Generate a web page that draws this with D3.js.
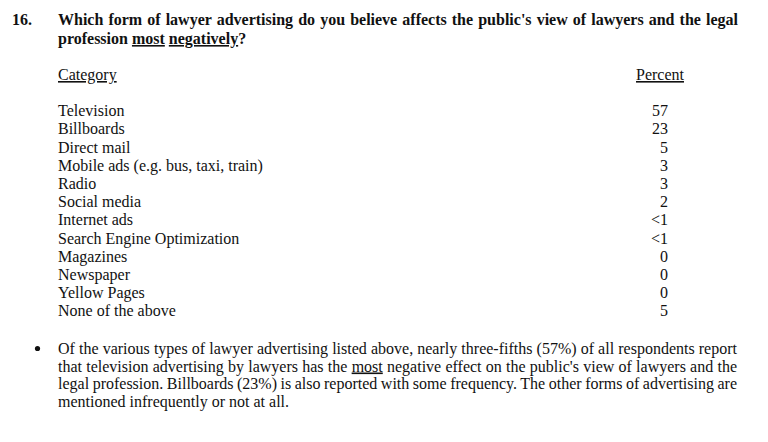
<!DOCTYPE html>
<html>
<head>
<meta charset="utf-8">
<script src="https://cdn.jsdelivr.net/npm/d3@7/dist/d3.min.js"></script>
<style>
  html, body { margin: 0; padding: 0; background: #fff; }
  svg { display: block; }
  text { font-family: "Liberation Serif", "Times New Roman", serif; fill: #111; }
</style>
</head>
<body>
<div id="chart"></div>
<script>
// ---- data ----
const questionNumber = "16.";
const titleLines = [
  [{t: "Which form of lawyer advertising do you believe affects the public's view of lawyers and the legal"}],
  [{t: "profession "}, {t: "most", u: true}, {t: " "}, {t: "negatively", u: true}, {t: "?"}]
];
const headers = ["Category", "Percent"];
const categories = [
  "Television", "Billboards", "Direct mail", "Mobile ads (e.g. bus, taxi, train)",
  "Radio", "Social media", "Internet ads", "Search Engine Optimization",
  "Magazines", "Newspaper", "Yellow Pages", "None of the above"
];
const percents = [57, 23, 5, 3, 3, 2, "<1", "<1", 0, 0, 0, 5];
const noteLines = [
  [{t: "Of the various types of lawyer advertising listed above, nearly three-fifths (57%) of all respondents report"}],
  [{t: "that television advertising by lawyers has the "}, {t: "most", u: true}, {t: " negative effect on the public's view of lawyers and the"}],
  [{t: "legal profession. Billboards (23%) is also reported with some frequency. The other forms of advertising are"}],
  [{t: "mentioned infrequently or not at all."}]
];

// ---- layout ----
const W = 768, H = 442;
const fontSize = 16;
const textLeft = 58, textRight = 738;
const numRight = 668;

const svg = d3.select("#chart").append("svg")
  .attr("width", W).attr("height", H);
svg.append("rect").attr("width", W).attr("height", H).attr("fill", "#fff");

function writeLine(g, parts, x, y, opts) {
  const txt = g.append("text")
    .attr("x", x).attr("y", y)
    .attr("font-size", fontSize)
    .attr("font-weight", opts.bold ? "bold" : "normal")
    .style("white-space", "pre");
  parts.forEach(p => {
    const ts = txt.append("tspan").text(p.t);
    if (p.u) ts.style("text-decoration", "underline");
  });
  if (opts.justifyTo) {
    const full = parts.map(p => p.t).join("");
    const spaces = (full.match(/ /g) || []).length;
    const natural = txt.node().getComputedTextLength();
    const ws = (opts.justifyTo - x - natural) / spaces;
    txt.style("word-spacing", ws + "px");
  }
  return txt;
}

// Title
const gTitle = svg.append("g");
gTitle.append("text").attr("x", 12).attr("y", 25)
  .attr("font-size", fontSize).attr("font-weight", "bold").text(questionNumber);
writeLine(gTitle, titleLines[0], textLeft, 25, {bold: true, justifyTo: textRight});
writeLine(gTitle, titleLines[1], textLeft, 44, {bold: true});

// Headers
svg.append("text").attr("x", textLeft).attr("y", 80).attr("font-size", fontSize)
  .style("text-decoration", "underline").text(headers[0]);
svg.append("text").attr("x", 684).attr("y", 80).attr("font-size", fontSize)
  .attr("text-anchor", "end")
  .style("text-decoration", "underline").text(headers[1]);

// Rows
const y = d3.scalePoint().domain(categories).range([116.3, 316.3]);
const rows = svg.append("g").selectAll("g.row")
  .data(categories.map((c, i) => ({c, v: percents[i]})))
  .join("g").attr("class", "row");
rows.append("text").attr("x", textLeft).attr("y", d => y(d.c))
  .attr("font-size", fontSize).text(d => d.c);
rows.append("text").attr("x", numRight).attr("y", d => y(d.c))
  .attr("font-size", fontSize).attr("text-anchor", "end").text(d => d.v);

// Note paragraph
const gNote = svg.append("g");
gNote.append("circle").attr("cx", 37.5).attr("cy", 348.5).attr("r", 2.6).attr("fill", "#111");
const noteY = [353.5, 371.5, 389, 406.5];
noteLines.forEach((ln, i) => {
  writeLine(gNote, ln, textLeft, noteY[i], {justifyTo: i < noteLines.length - 1 ? 737 : null});
});
</script>
</body>
</html>
